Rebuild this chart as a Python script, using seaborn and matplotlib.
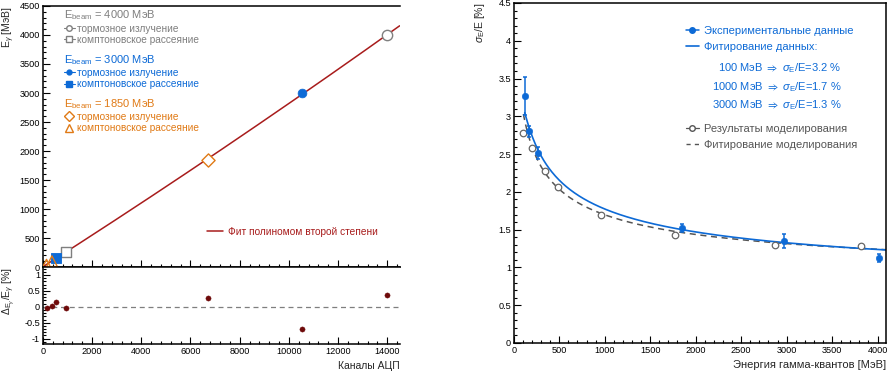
import numpy as np
import matplotlib
matplotlib.use('Agg')
import matplotlib.pyplot as plt
import seaborn as sns
from matplotlib.lines import Line2D
from matplotlib.ticker import MultipleLocator

# --- калибровка: каналы АЦП -> энергия (МэВ) ---
ch_brem_4000 = [14000]
e_brem_4000 = [4000]
ch_comp_4000 = [940]
e_comp_4000 = [265]
ch_brem_3000 = [10550]
e_brem_3000 = [3000]
ch_comp_3000 = [520]
e_comp_3000 = [150]
ch_brem_1850 = [6700]
e_brem_1850 = [1850]
ch_comp_1850 = [150, 370]
e_comp_1850 = [40, 100]

res_ch = [150, 370, 520, 940, 6700, 10550, 14000]
res_val = [-0.03, 0.03, 0.15, -0.05, 0.28, -0.70, 0.37]

# --- энергетическое разрешение ---
exp_e = [120, 165, 270, 1850, 2970, 4020]
exp_res = [3.27, 2.80, 2.52, 1.52, 1.35, 1.12]
exp_err = [0.25, 0.07, 0.08, 0.05, 0.09, 0.055]
sim_e = [102, 200, 340, 490, 963, 1777, 2868, 3820]
sim_res = [2.78, 2.58, 2.27, 2.07, 1.70, 1.43, 1.30, 1.28]

fit_exp_e = [120, 270, 500, 1000, 1500, 2000, 3000, 4090]
fit_exp_v = [3.05, 2.55, 2.13, 1.78, 1.605, 1.49, 1.32, 1.21]
fit_sim_e = [110, 200, 500, 1000, 1500, 2000, 3000, 4090]
fit_sim_v = [3.00, 2.60, 2.03, 1.68, 1.55, 1.46, 1.31, 1.22]

GREY = '#7f7f7f'
BLUE = '#0d6ad6'
ORANGE = '#e07a16'
RED = '#a81c1c'
DARKRED = '#6e0a0a'

sns.set_theme(style='ticks')
plt.rcParams['font.family'] = ['Liberation Sans', 'DejaVu Sans']
plt.rcParams['mathtext.fontset'] = 'custom'
plt.rcParams['mathtext.rm'] = 'Liberation Sans'
plt.rcParams['mathtext.it'] = 'Liberation Sans:italic'
plt.rcParams['mathtext.bf'] = 'Liberation Sans:bold'
plt.rcParams['mathtext.fallback'] = 'stixsans'
plt.rcParams['axes.linewidth'] = 1.1
plt.rcParams['axes.edgecolor'] = 'black'

fig = plt.figure(figsize=(8.92, 3.74), dpi=100)
ax1 = fig.add_axes([0.048, 0.286, 0.400, 0.698])
ax2 = fig.add_axes([0.048, 0.080, 0.400, 0.206], sharex=ax1)
ax3 = fig.add_axes([0.576, 0.083, 0.417, 0.909])

# ---------- верхняя левая панель ----------
coef = np.polyfit(ch_brem_4000 + ch_comp_4000 + ch_brem_3000 + ch_comp_3000 + ch_brem_1850 + ch_comp_1850,
                  e_brem_4000 + e_comp_4000 + e_brem_3000 + e_comp_3000 + e_brem_1850 + e_comp_1850, 2)
xx = np.linspace(0, 14500, 300)
sns.lineplot(x=xx, y=np.polyval(coef, xx), ax=ax1, color=RED, lw=1.1)

sns.scatterplot(x=ch_brem_4000, y=e_brem_4000, ax=ax1, marker='o', s=55,
                facecolor='white', edgecolor=GREY, linewidth=1, zorder=5)
sns.scatterplot(x=ch_comp_4000, y=e_comp_4000, ax=ax1, marker='s', s=60,
                facecolor='white', edgecolor=GREY, linewidth=1, zorder=5)
sns.scatterplot(x=ch_brem_3000, y=e_brem_3000, ax=ax1, marker='o', s=40,
                color=BLUE, edgecolor=BLUE, zorder=5)
sns.scatterplot(x=ch_comp_3000, y=e_comp_3000, ax=ax1, marker='s', s=60,
                color=BLUE, edgecolor=BLUE, zorder=5)
sns.scatterplot(x=ch_brem_1850, y=e_brem_1850, ax=ax1, marker='D', s=45,
                facecolor='white', edgecolor=ORANGE, linewidth=1, zorder=5)
sns.scatterplot(x=ch_comp_1850, y=e_comp_1850, ax=ax1, marker='^', s=60,
                facecolor='none', edgecolor=ORANGE, linewidth=1, zorder=5)

ax1.set_xlim(0, 14500)
ax1.set_ylim(0, 4500)
ax1.yaxis.set_major_locator(MultipleLocator(500))
ax1.yaxis.set_minor_locator(MultipleLocator(100))
ax1.xaxis.set_major_locator(MultipleLocator(2000))
ax1.xaxis.set_minor_locator(MultipleLocator(400))
ax1.tick_params(labelbottom=False)
ax1.set_ylabel(r'E$_{\gamma}$ [МэВ]', loc='top', fontsize=7.5)
ax1.yaxis.set_label_coords(-0.072, 1.0)


def beam_legend(ax, title, color, handles, labels, ytop):
    leg = ax.legend(handles, labels, title=title, loc='upper left',
                    bbox_to_anchor=(0.058, ytop), frameon=False, fontsize=7.3,
                    title_fontsize=8, alignment='left', borderpad=0,
                    handlelength=1.1, handletextpad=0.2, labelspacing=0.12,
                    borderaxespad=0)
    leg.get_title().set_color(color)
    for t in leg.get_texts():
        t.set_color(color)
    ax.add_artist(leg)


labels_beam = ['тормозное излучение', 'комптоновское рассеяние']
beam_legend(ax1, r'E$_{\mathrm{beam}}$ = 4000 МэВ', GREY,
            [Line2D([], [], color=GREY, lw=0.8, marker='o', ms=4, mfc='white'),
             Line2D([], [], color=GREY, lw=0.8, marker='s', ms=4, mfc='white')],
            labels_beam, 0.99)
beam_legend(ax1, r'E$_{\mathrm{beam}}$ = 3000 МэВ', BLUE,
            [Line2D([], [], color=BLUE, lw=0.8, marker='o', ms=3.5),
             Line2D([], [], color=BLUE, lw=0.8, marker='s', ms=4)],
            labels_beam, 0.82)
beam_legend(ax1, r'E$_{\mathrm{beam}}$ = 1850 МэВ', ORANGE,
            [Line2D([], [], color=ORANGE, lw=0, marker='D', ms=5, mfc='white'),
             Line2D([], [], color=ORANGE, lw=0, marker='^', ms=6, mfc='none')],
            labels_beam, 0.652)

fit_leg = ax1.legend([Line2D([], [], color=RED, lw=1.1)], ['Фит полиномом второй степени'],
                     loc='center left', bbox_to_anchor=(0.46, 0.135), frameon=False,
                     fontsize=7.3, handlelength=1.6, handletextpad=0.5, borderpad=0,
                     borderaxespad=0)
for t in fit_leg.get_texts():
    t.set_color(RED)

# ---------- нижняя левая панель (отклонения) ----------
ax2.axhline(0, color=GREY, lw=0.9, ls=(0, (4, 3)))
sns.scatterplot(x=res_ch, y=res_val, ax=ax2, color=DARKRED, edgecolor=DARKRED, s=14, zorder=5)
ax2.set_ylim(-1.17, 1.25)
ax2.yaxis.set_minor_locator(MultipleLocator(0.1))
ax2.set_yticks([-1, -0.5, 0, 0.5, 1])
ax2.set_yticklabels(['-1', '-0.5', '0', '0.5', '1'])
ax2.set_ylabel(r'$\Delta_{\mathrm{E}_{\gamma}}/\mathrm{E}_{\gamma}$ [%]', loc='top', fontsize=7.5)
ax2.yaxis.set_label_coords(-0.072, 1.0)
ax2.set_xlabel('Каналы АЦП', loc='right', fontsize=7.5, labelpad=4)

# ---------- правая панель (разрешение) ----------
def basis(e):
    e = np.asarray(e, float)
    return np.column_stack([1 / e, 1 / np.sqrt(e), np.ones(len(e))])


p_exp = np.linalg.lstsq(basis(fit_exp_e), fit_exp_v, rcond=None)[0]
p_sim = np.linalg.lstsq(basis(fit_sim_e), fit_sim_v, rcond=None)[0]

ee_exp = np.linspace(120, 4090, 400)
ee_sim = np.linspace(105, 4090, 400)
sns.lineplot(x=ee_sim, y=basis(ee_sim) @ p_sim, ax=ax3, color='#555555', lw=1.1,
             linestyle=(0, (4, 3)))
sns.lineplot(x=ee_exp, y=basis(ee_exp) @ p_exp, ax=ax3, color=BLUE, lw=1.2)

sns.scatterplot(x=sim_e, y=sim_res, ax=ax3, marker='o', s=22, facecolor='white',
                edgecolor='#666666', linewidth=0.9, zorder=5)
ax3.errorbar(exp_e, exp_res, yerr=exp_err, fmt='none', ecolor=BLUE, elinewidth=1.1,
             capsize=1.5, capthick=1.1, zorder=6)
sns.scatterplot(x=exp_e, y=exp_res, ax=ax3, marker='o', s=22, color=BLUE,
                edgecolor=BLUE, zorder=7)

ax3.set_xlim(0, 4090)
ax3.set_ylim(0, 4.5)
ax3.xaxis.set_minor_locator(MultipleLocator(100))
ax3.yaxis.set_minor_locator(MultipleLocator(0.1))
ax3.set_yticks(np.arange(0, 4.51, 0.5))
ax3.set_yticklabels(['0', '0.5', '1', '1.5', '2', '2.5', '3', '3.5', '4', '4.5'])
ax3.set_xticks(np.arange(0, 4001, 500))
ax3.set_ylabel(r'$\sigma_{\mathrm{E}}$/E [%]', loc='top', fontsize=7.5, labelpad=8)
ax3.set_xlabel('Энергия гамма-квантов [МэВ]', loc='right', fontsize=8, labelpad=4)

leg_a = ax3.legend([Line2D([], [], color=BLUE, lw=1.1, marker='o', ms=4),
                    Line2D([], [], color=BLUE, lw=1.2)],
                   ['Экспериментальные данные', 'Фитирование данных:'],
                   loc='upper left', bbox_to_anchor=(0.462, 0.932), frameon=False,
                   fontsize=8, handlelength=1.2, handletextpad=0.45, labelspacing=0.55,
                   borderpad=0, borderaxespad=0)
for t in leg_a.get_texts():
    t.set_color(BLUE)
ax3.add_artist(leg_a)

for lab, yy in zip([r'100 МэВ $\Rightarrow$ $\sigma_{\mathrm{E}}$/E=3.2 %',
                    r'1000 МэВ $\Rightarrow$ $\sigma_{\mathrm{E}}$/E=1.7 %',
                    r'3000 МэВ $\Rightarrow$ $\sigma_{\mathrm{E}}$/E=1.3 %'], [0.809, 0.753, 0.700]):
    ax3.text(0.882, yy, lab, transform=ax3.transAxes, ha='right', va='center',
             fontsize=8, color=BLUE)

leg_b = ax3.legend([Line2D([], [], color='#555555', lw=0.9, marker='o', ms=4, mfc='white'),
                    Line2D([], [], color='#555555', lw=1.0, ls=(0, (3, 3)))],
                   ['Результаты моделирования', 'Фитирование моделирования'],
                   loc='upper left', bbox_to_anchor=(0.462, 0.645), frameon=False,
                   fontsize=8, handlelength=1.2, handletextpad=0.45, labelspacing=0.55,
                   borderpad=0, borderaxespad=0)
for t in leg_b.get_texts():
    t.set_color('#555555')

for ax in (ax1, ax2, ax3):
    ax.tick_params(which='both', direction='in', top=False, right=False, labelsize=6.6,
                   colors='black', pad=2)
    ax.tick_params(which='major', length=5, width=0.8)
    ax.tick_params(which='minor', length=2.5, width=0.8)
    for sp in ax.spines.values():
        sp.set_visible(True)
        sp.set_linewidth(1.1)
ax1.spines['right'].set_visible(False)
ax2.spines['right'].set_visible(False)

fig.savefig('out.png', dpi=100)
